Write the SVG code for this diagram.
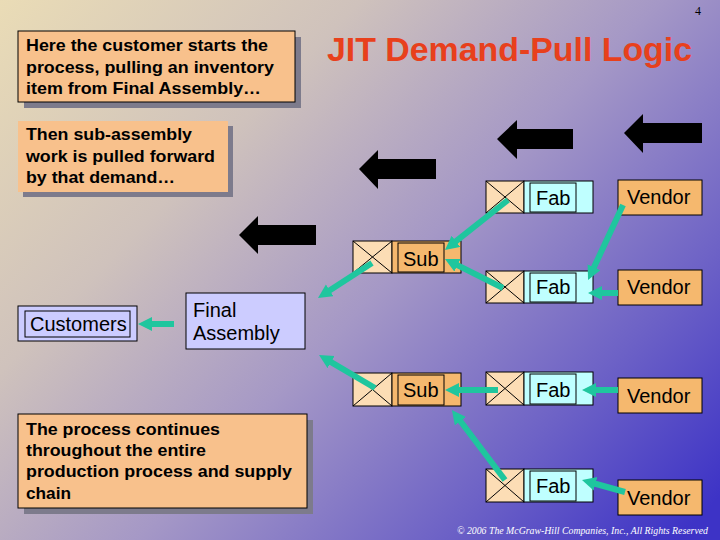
<svg xmlns="http://www.w3.org/2000/svg" width="720" height="540" viewBox="0 0 720 540">
<defs>
<linearGradient id="bg" gradientUnits="userSpaceOnUse" x1="0" y1="0" x2="620" y2="600">
<stop offset="0" stop-color="#EADCB6"/>
<stop offset="0.3" stop-color="#CFC2BC"/>
<stop offset="0.55" stop-color="#A598C6"/>
<stop offset="0.8" stop-color="#6D62C6"/>
<stop offset="1" stop-color="#3D33C6"/>
</linearGradient>
<marker id="ah" markerUnits="userSpaceOnUse" markerWidth="14" markerHeight="16" refX="3" refY="7" orient="auto">
<path d="M0,0 L14,7 L0,14 Z" fill="#1FC69E"/>
</marker>
<style>
.note{fill:#F8C18C}
.notes{fill:#7D7B8C}
.nt{font-family:"Liberation Sans",Arial,sans-serif;font-size:17px;font-weight:bold;fill:#000}
.lbl{font-family:"Liberation Sans",Arial,sans-serif;font-size:20px;fill:#000}
.lav{fill:#CCCCFF;stroke:#000;stroke-width:1}
.xb{fill:#FCDDB5;stroke:#000;stroke-width:1}
.cy{fill:#BFFFFF;stroke:#000;stroke-width:1}
.or{fill:#F5B86E;stroke:#000;stroke-width:1}
.inner{fill:none;stroke:#000;stroke-width:1}
.blk{fill:#000}
.con line{stroke:#1FC69E;stroke-width:6;marker-end:url(#ah)}
</style>
</defs>
<rect width="720" height="540" fill="url(#bg)"/>

<text x="695" y="15" font-family="Liberation Serif,serif" font-size="12" fill="#000">4</text>
<text x="327" y="61" font-family="Liberation Sans,Arial,sans-serif" font-size="34" font-weight="bold" fill="#E8401C" textLength="365" lengthAdjust="spacingAndGlyphs">JIT Demand-Pull Logic</text>

<g id="note1">
<rect class="notes" x="24" y="37" width="277" height="71"/>
<rect class="note" x="18" y="31" width="277" height="71" stroke="#000" stroke-width="1"/>
<text class="nt" x="26" y="51" textLength="242" lengthAdjust="spacingAndGlyphs">Here the customer starts the</text>
<text class="nt" x="26" y="73" textLength="248" lengthAdjust="spacingAndGlyphs">process, pulling an inventory</text>
<text class="nt" x="26" y="94" textLength="235" lengthAdjust="spacingAndGlyphs">item from Final Assembly…</text>
</g>

<g id="note2">
<rect class="notes" x="23" y="126" width="210" height="71"/>
<rect class="note" x="18" y="121" width="210" height="71"/>
<text class="nt" x="26" y="140" textLength="166" lengthAdjust="spacingAndGlyphs">Then sub-assembly</text>
<text class="nt" x="26" y="162" textLength="189" lengthAdjust="spacingAndGlyphs">work is pulled forward</text>
<text class="nt" x="26" y="183" textLength="149" lengthAdjust="spacingAndGlyphs">by that demand…</text>
</g>

<g id="note3">
<rect class="notes" x="24" y="420" width="289" height="94"/>
<rect class="note" x="18" y="414" width="289" height="94" stroke="#000" stroke-width="1"/>
<text class="nt" x="26" y="435" textLength="194" lengthAdjust="spacingAndGlyphs">The process continues</text>
<text class="nt" x="26" y="456" textLength="180" lengthAdjust="spacingAndGlyphs">throughout the entire</text>
<text class="nt" x="26" y="477" textLength="266" lengthAdjust="spacingAndGlyphs">production process and supply</text>
<text class="nt" x="26" y="499" textLength="45" lengthAdjust="spacingAndGlyphs">chain</text>
</g>

<g id="pull-arrows">
<polygon class="blk" points="239,235 258,216 258,225 316,225 316,245 258,245 258,254"/>
<polygon class="blk" points="359,169 378,150 378,159 436,159 436,179 378,179 378,189"/>
<polygon class="blk" points="497,139 517,120 517,129 573,129 573,149 517,149 517,159"/>
<polygon class="blk" points="624,133 643,114 643,123 702,123 702,143 643,143 643,153"/>
</g>

<g id="customers">
<rect class="lav" x="18" y="306" width="119" height="35"/>
<rect class="inner" x="25" y="311" width="105" height="26"/>
<text class="lbl" x="30" y="331">Customers</text>
</g>

<g id="final-assembly">
<rect class="lav" x="186" y="293" width="119" height="56"/>
<text class="lbl" x="193" y="317">Final</text>
<text class="lbl" x="193" y="340">Assembly</text>
</g>

<g id="sub1">
<rect class="xb" x="353" y="241" width="39" height="32"/>
<path class="inner" d="M353,241 L392,273 M392,241 L353,273"/>
<rect class="or" x="392" y="241" width="69" height="32"/>
<rect class="inner" x="398" y="243" width="46" height="29"/>
<text class="lbl" x="403" y="266">Sub</text>
</g>

<g id="sub2">
<rect class="xb" x="353" y="373" width="39" height="33"/>
<path class="inner" d="M353,373 L392,406 M392,373 L353,406"/>
<rect class="or" x="392" y="373" width="69" height="33"/>
<rect class="inner" x="398" y="375" width="46" height="30"/>
<text class="lbl" x="403" y="397">Sub</text>
</g>

<g id="fab1">
<rect class="xb" x="486" y="181" width="38" height="32"/>
<path class="inner" d="M486,181 L524,213 M524,181 L486,213"/>
<rect class="cy" x="524" y="181" width="69" height="32"/>
<rect class="inner" x="530" y="183" width="46" height="29"/>
<text class="lbl" x="536" y="205">Fab</text>
</g>

<g id="fab2">
<rect class="xb" x="486" y="271" width="38" height="32"/>
<path class="inner" d="M486,271 L524,303 M524,271 L486,303"/>
<rect class="cy" x="524" y="271" width="69" height="32"/>
<rect class="inner" x="530" y="273" width="46" height="29"/>
<text class="lbl" x="536" y="294">Fab</text>
</g>

<g id="fab3">
<rect class="xb" x="486" y="372" width="38" height="33"/>
<path class="inner" d="M486,372 L524,405 M524,372 L486,405"/>
<rect class="cy" x="524" y="372" width="69" height="33"/>
<rect class="inner" x="530" y="374" width="46" height="30"/>
<text class="lbl" x="536" y="397">Fab</text>
</g>

<g id="fab4">
<rect class="xb" x="486" y="469" width="38" height="33"/>
<path class="inner" d="M486,469 L524,502 M524,469 L486,502"/>
<rect class="cy" x="524" y="469" width="69" height="33"/>
<rect class="inner" x="530" y="471" width="46" height="30"/>
<text class="lbl" x="536" y="493">Fab</text>
</g>

<g id="vendor1">
<rect class="or" x="618" y="180" width="84" height="35"/>
<text class="lbl" x="627" y="204">Vendor</text>
</g>
<g id="vendor2">
<rect class="or" x="618" y="270" width="84" height="35"/>
<text class="lbl" x="627" y="294">Vendor</text>
</g>
<g id="vendor3">
<rect class="or" x="618" y="378" width="84" height="35"/>
<text class="lbl" x="627" y="403">Vendor</text>
</g>
<g id="vendor4">
<rect class="or" x="618" y="480" width="84" height="35"/>
<text class="lbl" x="627" y="505">Vendor</text>
</g>

<g id="connectors" class="con">
<line x1="174" y1="324" x2="149" y2="324"/>
<line x1="372" y1="263" x2="327.2" y2="292"/>
<line x1="375" y1="388" x2="328.5" y2="360.6"/>
<line x1="508" y1="200" x2="453.6" y2="243.2"/>
<line x1="503" y1="288" x2="454.8" y2="263.9"/>
<line x1="623" y1="205" x2="592.7" y2="270"/>
<line x1="618" y1="293" x2="599" y2="293"/>
<line x1="498" y1="390" x2="456" y2="390"/>
<line x1="618" y1="390" x2="593" y2="390"/>
<line x1="505" y1="480" x2="458.6" y2="418.8"/>
<line x1="625" y1="492" x2="592.6" y2="483"/>
</g>

<text x="457" y="534" font-family="Liberation Serif,serif" font-size="10" font-style="italic" fill="#FFFFFF" textLength="251" lengthAdjust="spacingAndGlyphs">© 2006 The McGraw-Hill Companies, Inc., All Rights Reserved</text>
</svg>
